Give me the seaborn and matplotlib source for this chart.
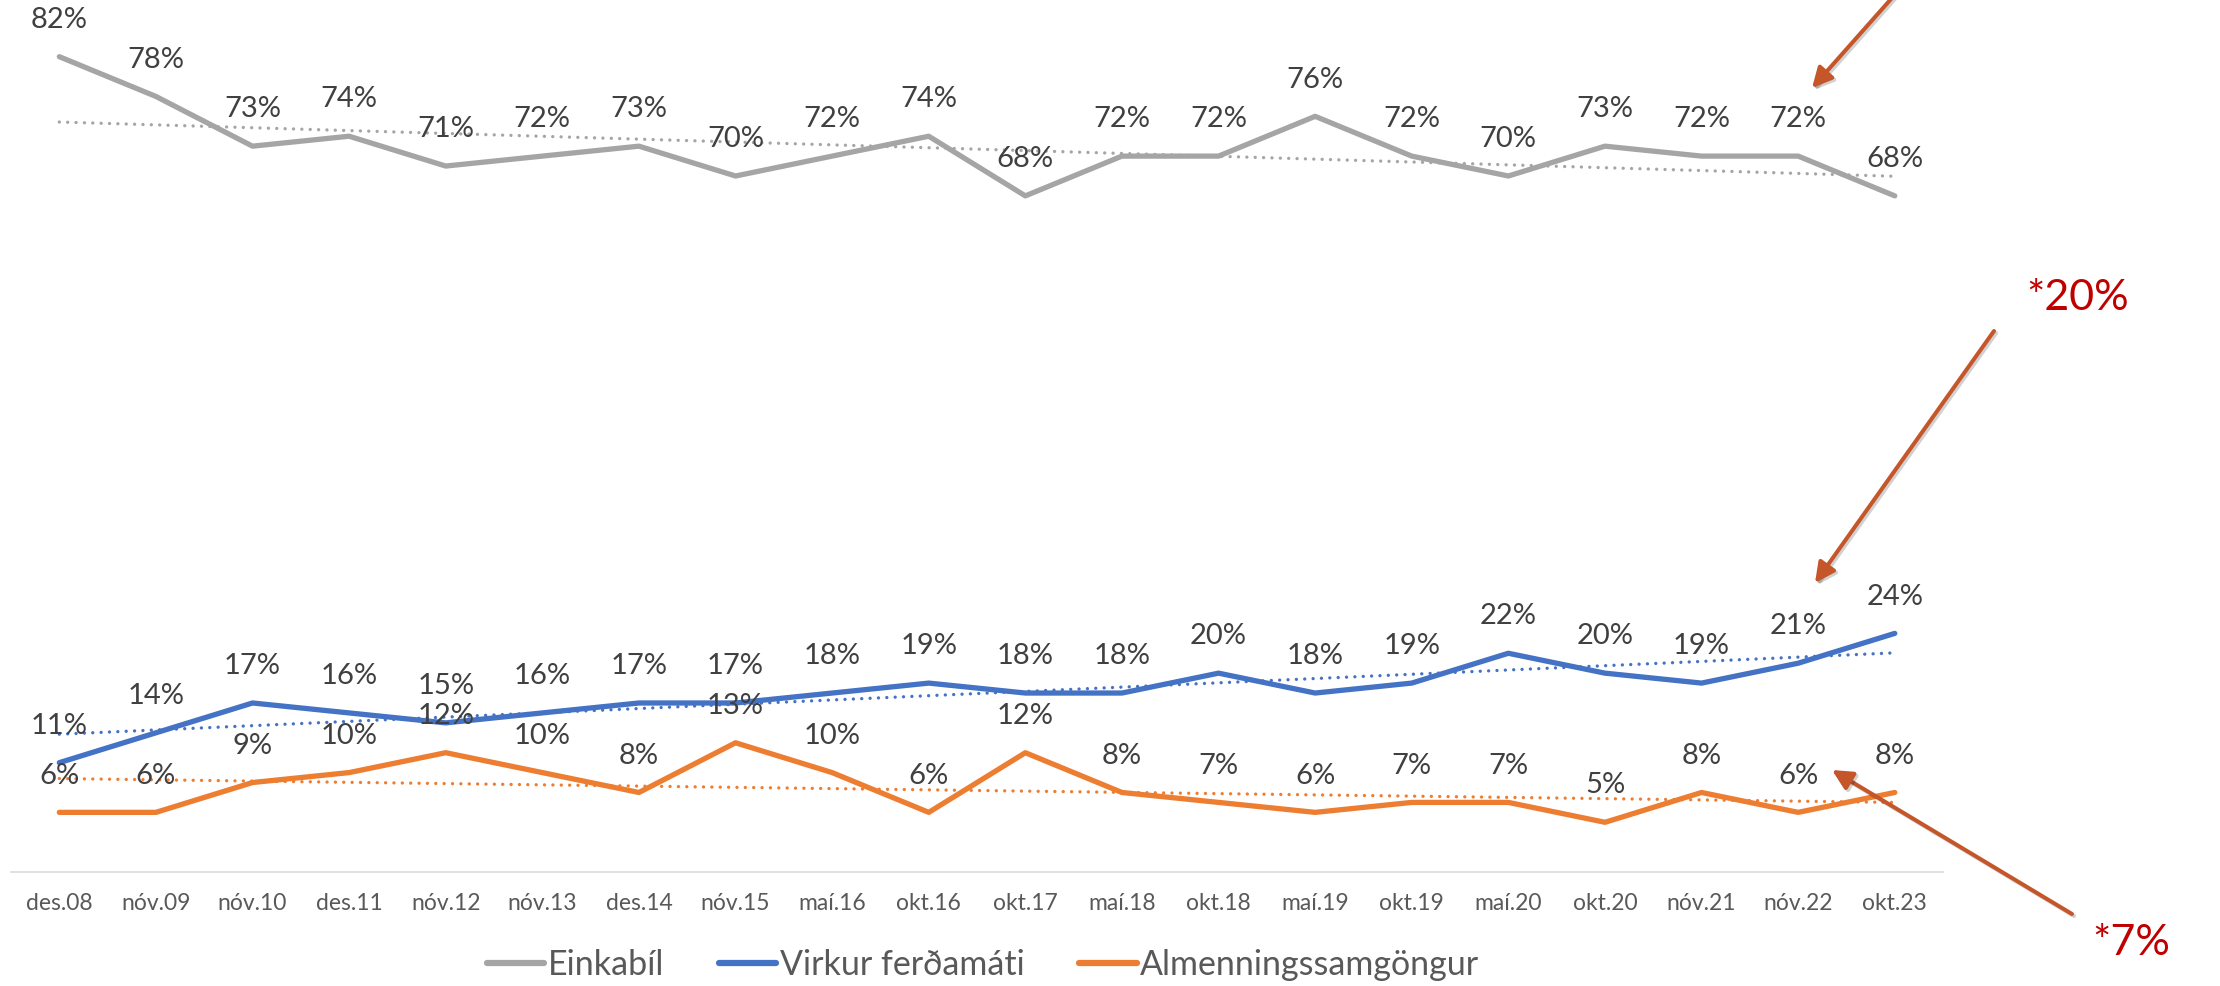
import numpy as np
import pandas as pd
import matplotlib.pyplot as plt
import matplotlib.patheffects as pe
import seaborn as sns
from matplotlib.lines import Line2D

# survey rounds (x axis)
periods = ["des.08", "nóv.09", "nóv.10", "des.11", "nóv.12", "nóv.13", "des.14",
           "nóv.15", "maí.16", "okt.16", "okt.17", "maí.18", "okt.18", "maí.19",
           "okt.19", "maí.20", "okt.20", "nóv.21", "nóv.22", "okt.23"]

# share of trips, %
einkabil = [82, 78, 73, 74, 71, 72, 73, 70, 72, 74, 68, 72, 72, 76, 72, 70, 73, 72, 72, 68]
virkur = [11, 14, 17, 16, 15, 16, 17, 17, 18, 19, 18, 18, 20, 18, 19, 22, 20, 19, 21, 24]
almenn = [6, 6, 9, 10, 12, 10, 8, 13, 10, 6, 12, 8, 7, 6, 7, 7, 5, 8, 6, 8]

series_names = ["Einkabíl", "Virkur ferðamáti", "Almenningssamgöngur"]
colors = ["#A5A5A5", "#4472C4", "#ED7D31"]

df = pd.DataFrame({"tímabil": periods, "pos": np.arange(len(periods)),
                   "Einkabíl": einkabil, "Virkur ferðamáti": virkur,
                   "Almenningssamgöngur": almenn})
long = df.melt(id_vars=["tímabil", "pos"], var_name="ferðamáti", value_name="hlutfall")

sns.set_style("white")
plt.rcParams["font.family"] = ["Lato", "DejaVu Sans"]

fig = plt.figure(figsize=(22.2, 9.86), dpi=100)
ax = fig.add_axes([0.00496, 0.1156, 0.8703, 0.8844])

sns.lineplot(data=long, x="pos", y="hlutfall", hue="ferðamáti", hue_order=series_names,
             palette=colors, lw=3.8, legend=False, ax=ax,
             solid_capstyle="round", solid_joinstyle="round")

# linear trendlines (dotted)
for name, col in zip(series_names, colors):
    sns.regplot(data=df, x="pos", y=name, scatter=False, ci=None, ax=ax, truncate=True,
                line_kws=dict(color=col, lw=2.4, ls=(0, (0.01, 2.5)), dash_capstyle="round"))

# data labels above each point
for name in series_names:
    for i, v in enumerate(df[name]):
        ax.annotate(f"{v}%", (i, v), xytext=(0, 26.5), textcoords="offset points",
                    ha="center", va="center", fontsize=21, color="#404040",
                    annotation_clip=False)

ax.set_xlim(-0.5, len(periods) - 0.5)
ax.set_ylim(0, 87.7)
ax.set_xlabel("")
ax.set_ylabel("")
ax.set_yticks([])
ax.set_xticks(range(len(periods)))
ax.set_xticklabels(periods, fontsize=16.5, color="#595959")
ax.set_xticks(np.arange(-0.5, len(periods)), minor=True)
ax.tick_params(axis="x", which="major", length=0, pad=15)
ax.tick_params(axis="x", which="minor", length=6, width=1.1, color="#D9D9D9", direction="out")
sns.despine(ax=ax, left=True)
ax.spines["bottom"].set_color("#D9D9D9")
ax.spines["bottom"].set_linewidth(1.1)

handles = [Line2D([], [], color=c, lw=4.5, solid_capstyle="round") for c in colors]
ax.legend(handles, series_names, loc="center", bbox_to_anchor=(983 / 2220, 1 - 965 / 986),
          bbox_transform=fig.transFigure, ncol=3, frameon=False, fontsize=24.5,
          handlelength=1.7, handletextpad=0.1, columnspacing=1.6, labelcolor="#595959")

# callouts
shadow = [pe.SimpleLineShadow(offset=(1.5, -1.5), shadow_color="#000000", alpha=0.18), pe.Normal()]
arrow_kw = dict(arrowstyle="-|>", color="#C4562A", lw=2.9, mutation_scale=30,
                shrinkA=0, shrinkB=0, path_effects=shadow)
H = 986
ax.annotate("", xy=(1812, H - 88), xycoords="figure pixels",
            xytext=(1899, H + 10), textcoords="figure pixels", arrowprops=arrow_kw)
ax.annotate("", xy=(1815, H - 583), xycoords="figure pixels",
            xytext=(1994, H - 331), textcoords="figure pixels", arrowprops=arrow_kw)
ax.annotate("", xy=(1832, H - 770), xycoords="figure pixels",
            xytext=(2072, H - 914), textcoords="figure pixels", arrowprops=arrow_kw)

fig.text(2078 / 2220, 1 - 298 / 986, "*20%", fontsize=31, color="#C00000",
         ha="center", va="center")
fig.text(2131 / 2220, 1 - 943 / 986, "*7%", fontsize=31, color="#C00000",
         ha="center", va="center")

fig.savefig("out.png", dpi=100)
